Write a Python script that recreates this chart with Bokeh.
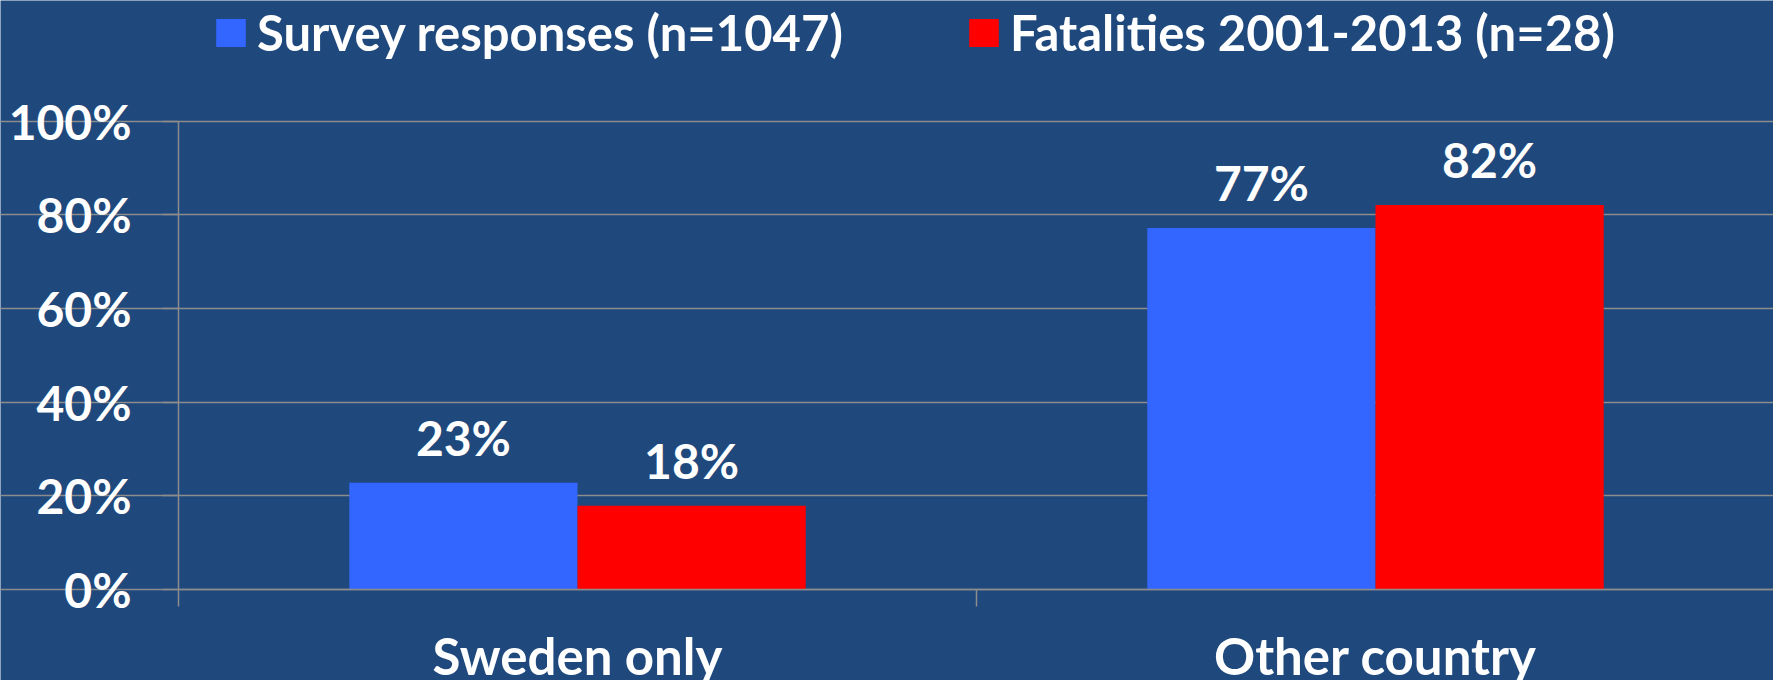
import numpy as np
from bokeh.plotting import figure
from bokeh.models import (ColumnDataSource, Range1d, FixedTicker, LinearAxis, Legend,
                          LegendItem, LabelSet, Grid)
from bokeh.core.properties import value
from bokeh.embed import file_html
from bokeh.resources import INLINE

# ---- data ----
categories = ["Sweden only", "Other country"]
survey = [22.8, 77.2]          # Survey responses (n=1047), %
fatalities = [17.9, 82.1]      # Fatalities 2001-2013 (n=28), %
series_names = ["Survey responses (n=1047)", "Fatalities 2001-2013 (n=28)"]
y_ticks = [0, 20, 40, 60, 80, 100]
y_tick_labels = ["0%", "20%", "40%", "60%", "80%", "100%"]

# ---- style ----
BG = "#1F497D"
BLUE = "#3366FF"
RED = "#FF0000"
GRID = "#8C8C8C"
FONT = "Lato"

W, H = 1773, 680
LEFT = 178
px_per_cat = 798.0
px_per_pct = 4.683
zero_y = 589

idx = np.arange(len(categories))
bar_w = 0.286

src_s = ColumnDataSource(dict(x=idx + 0.5 - bar_w / 2, top=survey,
                              lab=[f"{round(v)}%" for v in survey]))
src_f = ColumnDataSource(dict(x=idx + 0.5 + bar_w / 2, top=fatalities,
                              lab=[f"{round(v)}%" for v in fatalities]))

p = figure(width=W, height=H, output_backend="svg", toolbar_location=None,
           x_range=Range1d(-LEFT / px_per_cat, (W - LEFT) / px_per_cat),
           y_range=Range1d(-(H - zero_y) / px_per_pct, zero_y / px_per_pct),
           x_axis_type=None, y_axis_type=None,
           min_border_left=0, min_border_right=0, min_border_top=0, min_border_bottom=0)
p.background_fill_color = BG
p.border_fill_color = BG
p.outline_line_color = None
p.center = [r for r in p.center if not isinstance(r, Grid)]

grid = Grid(dimension=1, ticker=FixedTicker(ticks=y_ticks),
            grid_line_color=GRID, grid_line_width=1.5, bounds=(0, (W - LEFT) / px_per_cat))
p.add_layout(grid, "center")

# y axis pinned at x = 0 inside the frame
yax = LinearAxis(ticker=FixedTicker(ticks=y_ticks), bounds=(0, 100), fixed_location=0,
                 major_label_overrides={t: l for t, l in zip(y_ticks, y_tick_labels)})
yax.axis_line_color = GRID
yax.axis_line_width = 1.5
yax.major_tick_line_color = GRID
yax.major_tick_line_width = 1.5
yax.major_tick_out = 16
yax.major_tick_in = 0
yax.minor_tick_line_color = None
yax.major_label_standoff = 31
yax.major_label_text_font = FONT
yax.major_label_text_font_style = "bold"
yax.major_label_text_font_size = "48px"
yax.major_label_text_color = "white"
p.add_layout(yax, "left")

# x axis (ticks at category boundaries)
xax = LinearAxis(ticker=FixedTicker(ticks=list(range(len(categories) + 1))), fixed_location=0,
                 bounds=(0, (W - LEFT) / px_per_cat))
xax.axis_line_color = GRID
xax.axis_line_width = 1.5
xax.major_tick_line_color = GRID
xax.major_tick_line_width = 1.5
xax.major_tick_out = 17
xax.major_tick_in = 0
xax.minor_tick_line_color = None
xax.major_label_text_font_size = "0px"
xax.major_label_text_alpha = 0
p.add_layout(xax, "below")

# x category labels
centers = [float(i) + 0.5 for i in idx]
xlab = LinearAxis(ticker=FixedTicker(ticks=centers), fixed_location=0,
                  major_label_overrides={c: n for c, n in zip(centers, categories)})
xlab.axis_line_color = None
xlab.major_tick_line_color = None
xlab.minor_tick_line_color = None
xlab.major_tick_out = 0
xlab.major_label_standoff = 35
xlab.major_label_text_font = FONT
xlab.major_label_text_font_style = "bold"
xlab.major_label_text_font_size = "51px"
xlab.major_label_text_color = "white"
p.add_layout(xlab, "below")

# bars
r_s = p.vbar(x="x", top="top", bottom=0, width=bar_w, source=src_s,
             fill_color=BLUE, line_color=None)
r_f = p.vbar(x="x", top="top", bottom=0, width=bar_w, source=src_f,
             fill_color=RED, line_color=None)

for src in (src_s, src_f):
    p.add_layout(LabelSet(x="x", y="top", text="lab", source=src, y_offset=27,
                          text_align="center", text_baseline="alphabetic",
                          text_font=value(FONT), text_font_style="bold",
                          text_font_size="48px", text_color="white"))

# legends
for r, name, lx in ((r_s, series_names[0], 34 + LEFT), (r_f, series_names[1], 787 + LEFT)):
    lg = Legend(items=[LegendItem(label=name, renderers=[r])], location=(lx, 619),
                orientation="horizontal", glyph_width=37, glyph_height=35,
                label_standoff=8, padding=0, margin=0, spacing=0,
                background_fill_alpha=0, border_line_color=None,
                label_text_font=FONT, label_text_font_style="bold",
                label_text_font_size="49px", label_text_color="white")
    p.add_layout(lg, "center")

open("out.html", "w").write(file_html(p, INLINE))
